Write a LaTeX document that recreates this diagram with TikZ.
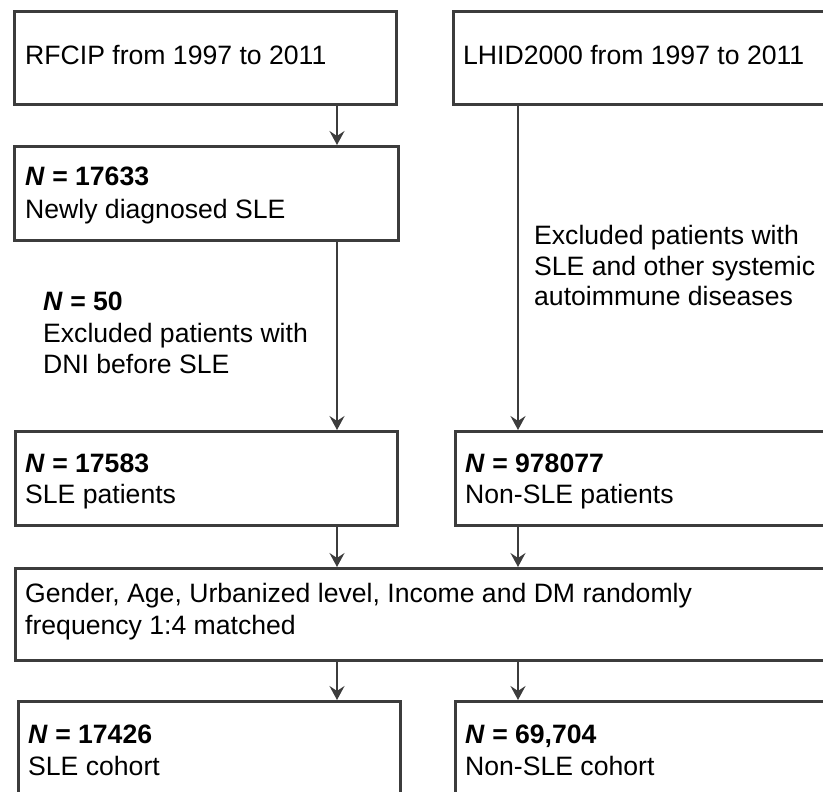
\documentclass[tikz,border=0pt]{standalone}
\usepackage{fontspec}
\setmainfont{Liberation Sans}
\usetikzlibrary{arrows.meta}
\definecolor{lc}{HTML}{3C3C3C}
\tikzset{
  box/.style={draw=lc, line width=2.8pt, rectangle, inner sep=0pt, anchor=north west},
  txt/.style={inner sep=0pt, anchor=base west, font=\fontsize{26.6}{31}\selectfont, text=black},
  arr/.style={draw=lc, line width=2.6pt, -{Stealth[length=14pt,width=15pt,inset=5pt]}}
}
\begin{document}
\begin{tikzpicture}[x=1pt,y=-1pt]
\useasboundingbox (0,0) rectangle (823,792);
\clip (0,0) rectangle (823,792);
% columns
\coordinate (cl) at (337,0);
\coordinate (cr) at (518,0);
% boxes
\node[box, minimum width=382pt, minimum height=93pt] (A) at (13,10) {};
\node[box, minimum width=380pt, minimum height=93pt] (B) at (452,10) {};
\node[box, minimum width=384pt, minimum height=94pt] (C) at (13,145) {};
\node[box, minimum width=382pt, minimum height=94pt] (D) at (14,430) {};
\node[box, minimum width=380pt, minimum height=94pt] (E) at (454,430) {};
\node[box, minimum width=820pt, minimum height=92pt] (F) at (14,567) {};
\node[box, minimum width=382pt, minimum height=110pt] (G) at (17,700) {};
\node[box, minimum width=380pt, minimum height=110pt] (H) at (454,700) {};
% texts
\node[txt] (tA) at (25,65) {RFCIP from 1997 to 2011};
\node[txt] (tB) at (463,65) {LHID2000 from 1997 to 2011};
\node[txt] (tC1) at (25,185) {\textbf{\textit{N} = 17633}};
\node[txt] (tC2) at (25,218) {Newly diagnosed SLE};
\node[txt] (tX1) at (43,310) {\textbf{\textit{N} = 50}};
\node[txt] (tX2) at (43,342) {Excluded patients with};
\node[txt] (tX3) at (43,373) {DNI before SLE};
\node[txt] (tY1) at (534,244) {Excluded patients with};
\node[txt] (tY2) at (534,275) {SLE and other systemic};
\node[txt] (tY3) at (534,305) {autoimmune diseases};
\node[txt] (tD1) at (25,472) {\textbf{\textit{N} = 17583}};
\node[txt] (tD2) at (25,503) {SLE patients};
\node[txt] (tE1) at (465,472) {\textbf{\textit{N} = 978077}};
\node[txt] (tE2) at (465,503) {Non-SLE patients};
\node[txt] (tF1) at (25,602) {Gender, Age, Urbanized level, Income and DM randomly};
\node[txt] (tF2) at (25,634) {frequency 1:4 matched};
\node[txt] (tG1) at (28,743) {\textbf{\textit{N} = 17426}};
\node[txt] (tG2) at (28,775) {SLE cohort};
\node[txt] (tH1) at (465,743) {\textbf{\textit{N} = 69,704}};
\node[txt] (tH2) at (465,775) {Non-SLE cohort};
% connectors
\draw[arr] (A.south -| cl) -- (C.north -| cl);
\draw[arr] (C.south -| cl) -- (D.north -| cl);
\draw[arr] (B.south -| cr) -- (E.north -| cr);
\draw[arr] (D.south -| cl) -- (F.north -| cl);
\draw[arr] (E.south -| cr) -- (F.north -| cr);
\draw[arr] (F.south -| cl) -- (G.north -| cl);
\draw[arr] (F.south -| cr) -- (H.north -| cr);
\end{tikzpicture}
\end{document}
